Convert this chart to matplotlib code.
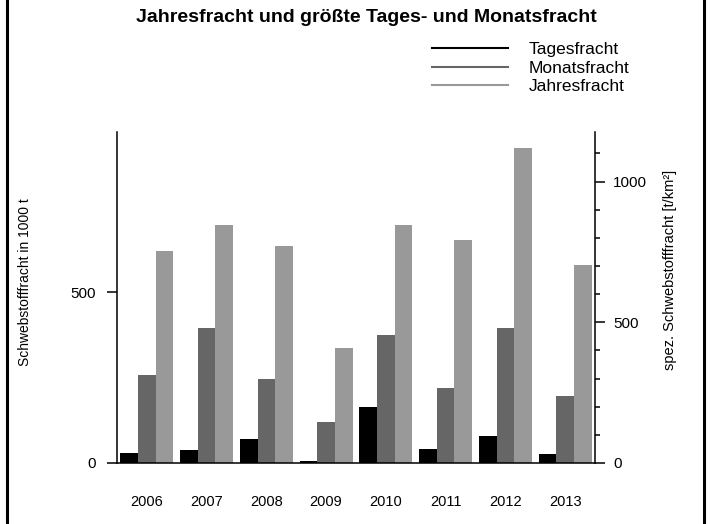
import matplotlib
matplotlib.use("Agg")
import numpy as np
from matplotlib import pyplot as plt
from matplotlib.lines import Line2D

plt.rcParams['font.family'] = ['Liberation Sans', 'DejaVu Sans']

# data (1000 t)
years = ['2006', '2007', '2008', '2009', '2010', '2011', '2012', '2013']
tagesfracht = [30, 38, 70, 6, 164, 41, 79, 26]
monatsfracht = [258, 397, 247, 120, 375, 220, 397, 196]
jahresfracht = [622, 698, 636, 337, 698, 654, 924, 581]

series_names = ['Tagesfracht', 'Monatsfracht', 'Jahresfracht']
series_colors = ['#000000', '#666666', '#999999']

fig = plt.figure(figsize=(7.12, 5.24), dpi=100)
ax = fig.add_axes([117/712, 1-463/524, (595-117)/712, (463-132)/524])

x = np.arange(len(years))
w = 0.295
for i, (vals, col) in enumerate(zip([tagesfracht, monatsfracht, jahresfracht], series_colors)):
    ax.bar(x + (i-1)*w, vals, width=w, color=col, linewidth=0)

ax.set_xlim(-0.5, 7.5)
ax.set_ylim(0, 970)
ax.set_xticks(x)
ax.set_xticklabels(years, fontsize=10.5)
ax.tick_params(axis='x', length=0, pad=23)
ax.set_yticks([0, 500])
ax.tick_params(axis='y', direction='out', length=7.2, width=1.1, labelsize=11, pad=8)
for s in ['top', 'right']:
    ax.spines[s].set_visible(False)
for s in ['left', 'bottom']:
    ax.spines[s].set_linewidth(1.1)
ax.set_ylabel('Schwebstofffracht in 1000 t', fontsize=10)
ax.yaxis.set_label_coords(-0.178, 0.547)

# right axis: spez. Schwebstofffracht
ax2 = ax.twinx()
ax2.set_ylim(0, 1176)
ax2.set_yticks([0, 500, 1000])
ax2.set_yticks(np.arange(0, 1200, 100), minor=True)
ax2.tick_params(axis='y', which='major', direction='out', length=7.2, width=1.1, labelsize=11, pad=6)
ax2.tick_params(axis='y', which='minor', direction='out', length=3.6, width=1.1)
for s in ['top', 'left', 'bottom']:
    ax2.spines[s].set_visible(False)
ax2.spines['right'].set_linewidth(1.1)
ax2.set_ylabel('spez. Schwebstofffracht [t/km²]', fontsize=10.5)
ax2.yaxis.set_label_coords(1.143, 0.583)

fig.text(366/712, 1-18/524, 'Jahresfracht und größte Tages- und Monatsfracht',
         ha='center', va='center', fontsize=14, fontweight='bold')

handles = [Line2D([], [], color=c, linewidth=1.5) for c in series_colors]
fig.legend(handles, series_names, loc='upper left', bbox_to_anchor=(432/712, 1-42/524),
           frameon=False, fontsize=12.5, handlelength=4.4, handletextpad=1.15,
           labelspacing=0.2, borderpad=0, borderaxespad=0)

# frame lines left and right
fig.add_artist(Line2D([7/712, 7/712], [0, 1], color='black', linewidth=2.2, transform=fig.transFigure))
fig.add_artist(Line2D([704/712, 704/712], [0, 1], color='black', linewidth=2.2, transform=fig.transFigure))

fig.savefig('out.png', dpi=100)
